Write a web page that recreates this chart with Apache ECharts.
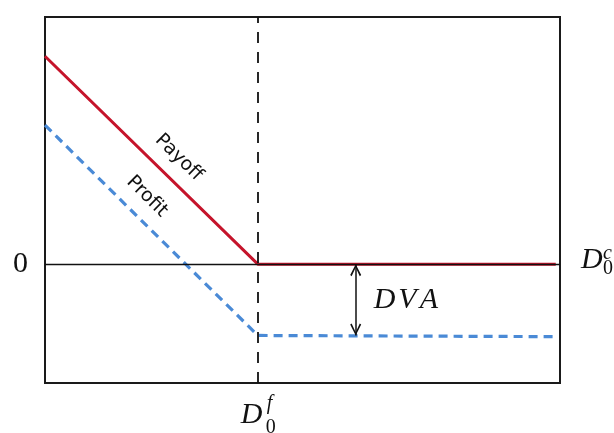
<!DOCTYPE html>
<html><head><meta charset="utf-8">
<script src="https://cdn.jsdelivr.net/npm/echarts@6/dist/echarts.min.js"></script>
<style>html,body{margin:0;padding:0;background:#fff}#c{width:614px;height:433px}</style>
</head><body><div id="c"></div>
<script>
// ---- data ----
const xValues = [0, 5, 12];
const payoff  = [1.75, 0, 0];
const profit  = [1.17, -0.6, -0.61];
const strikeX = 5;        // D_0^f
const dvaX = 7.3;         // position of DVA arrow
const xRange = [0, 12.1];
const yRange = [-1, 2.08];
const zeroLabel = '0';
const seriesNames = ['Payoff', 'Profit'];
const dvaLabel = ['D', 'V', 'A'];

const chart = echarts.init(document.getElementById('c'), null, {renderer: 'canvas'});
const pairs = (ys) => xValues.map((x, i) => [x, ys[i]]);
// open chevron whose tip sits at the symbol centre (extra invisible point extends the box)
const chevron = 'path://M0,10 L5,0 L10,10 L8.7,11 L5,3 L1.3,11 Z M5,-11 L5.01,-11 L5,-10.98 Z';

chart.setOption({
  animation: false,
  backgroundColor: '#fff',
  grid: {left: 45, top: 17, width: 515, height: 366, show: true, borderColor: '#1a1a1a', borderWidth: 2, backgroundColor: 'transparent'},
  xAxis: {type: 'value', min: xRange[0], max: xRange[1], show: false},
  yAxis: {type: 'value', min: yRange[0], max: yRange[1], show: false},
  series: [
    {
      type: 'line', data: [], z: 1, silent: true,
      markLine: {
        silent: true, symbol: 'none', label: {show: false},
        data: [
          {yAxis: 0, lineStyle: {color: '#111', width: 1.4, type: 'solid'}},
          {xAxis: strikeX, lineStyle: {color: '#111', width: 1.8, type: [11, 9]}}
        ]
      }
    },
    {
      name: seriesNames[1], type: 'line', data: pairs(profit), z: 2,
      showSymbol: false, symbol: 'none',
      lineStyle: {color: '#4a8ad6', width: 3.2, type: [9, 6]}
    },
    {
      name: seriesNames[0], type: 'line', data: pairs(payoff), z: 3,
      showSymbol: false, symbol: 'none',
      lineStyle: {color: '#c5142b', width: 3}
    },
    {
      type: 'line', data: [], z: 4, silent: true,
      markLine: {
        silent: true, label: {show: false},
        symbol: [chevron, chevron], symbolSize: [11, 24],
        lineStyle: {color: '#111', width: 1.5, type: 'solid'},
        data: [[{coord: [dvaX, 0]}, {coord: [dvaX, profit[1]]}]]
      }
    }
  ]
});

// ---- annotations positioned from the data scale ----
const px = (p) => chart.convertToPixel({gridIndex: 0}, p);
const serifI = 'italic 30px "Liberation Serif", "DejaVu Serif", serif';
const serif = '30px "Liberation Serif", "DejaVu Serif", serif';
const supI = 'italic 20px "Liberation Serif", serif';
const sub = '20px "Liberation Serif", serif';
const sans = '19px "DejaVu Sans", sans-serif';

function t(text, x, y, font, align, vAlign, extra) {
  return Object.assign({type: 'text', x: x, y: y, silent: true, z: 100,
    style: {text: text, font: font, fill: '#111', align: align || 'left', verticalAlign: vAlign || 'middle'}}, extra || {});
}

const p0 = px([xRange[0], 0]);
const pR = px([xRange[1], 0]);
const pB = px([strikeX, yRange[0]]);
const pA = px([dvaX, (0 + profit[1]) / 2]);

function alongLabel(ys, frac, text) {
  const a = px([xValues[0], ys[0]]), b = px([xValues[1], ys[1]]);
  const dx = b[0] - a[0], dy = b[1] - a[1], L = Math.hypot(dx, dy);
  const ux = dx / L, uy = dy / L;
  const nx = uy, ny = -ux; // normal pointing upper-right
  const cx = a[0] + frac * dx + 21 * nx, cy = a[1] + frac * dy + 21 * ny;
  return t(text, cx, cy, sans, 'center', 'middle', {rotation: -Math.atan2(dy, dx)});
}

const graphics = [
  t(zeroLabel, p0[0] - 17, p0[1], serif, 'right'),
  // D_0^c at right end of zero line
  t('D', pR[0] + 21, pR[1] - 4, serifI, 'left'),
  t('c', pR[0] + 43, pR[1] - 10, supI, 'left'),
  t('0', pR[0] + 43, pR[1] + 5, sub, 'left'),
  // D_0^f below strike line
  t('D', pB[0] - 17, pB[1] + 32, serifI, 'left'),
  t('f', pB[0] + 9, pB[1] + 21, supI, 'left'),
  t('0', pB[0] + 8, pB[1] + 45, sub, 'left'),
  // DVA
  {type: 'text', x: pA[0] + 18, y: pA[1], silent: true, z: 100,
   style: {text: '{a|' + dvaLabel[0] + '}{b|' + dvaLabel[1] + '}{c|' + dvaLabel[2] + '}', font: serifI, fill: '#111', align: 'left', verticalAlign: 'middle',
     rich: {a: {font: serifI, padding: [0, 3, 0, 0]}, b: {font: serifI, padding: [0, 3, 0, 0]}, c: {font: serifI}}}},
  alongLabel(payoff, 0.56, seriesNames[0]),
  alongLabel(profit, 0.41, seriesNames[1])
];
chart.setOption({graphic: graphics});
</script>
</body></html>
